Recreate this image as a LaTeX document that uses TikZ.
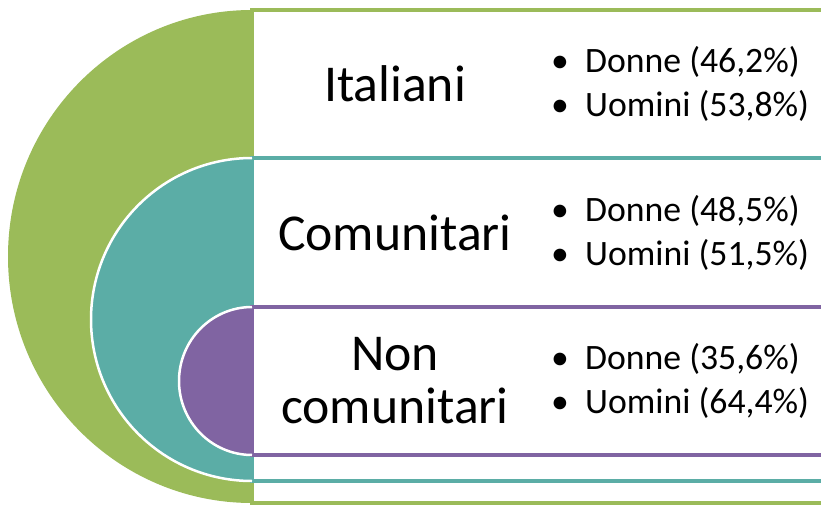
\documentclass[tikz,border=0pt]{standalone}
\usepackage{fontspec}
\setmainfont{Carlito}
\usepackage{tikz}
\usetikzlibrary{positioning,calc}
\definecolor{verde}{HTML}{9BBB59}
\definecolor{ottanio}{HTML}{5BADA6}
\definecolor{viola}{HTML}{8064A2}

\tikzset{
  fascia/.style={fill=white,draw=#1,line width=3.5pt},
  titolo/.style={align=center,font=\fontsize{51.7}{53}\selectfont,inner sep=0pt},
  elenco/.style={align=left,anchor=west,font=\fontsize{35.7}{44}\selectfont,inner sep=0pt}
}
\newcommand{\voce}[1]{\makebox[34pt][l]{\textbullet}#1}

\begin{document}
\begin{tikzpicture}[x=1pt,y=-1pt]
  \useasboundingbox (0,0) rectangle (821,505);
  \clip (0,0) rectangle (821,505);
  \fill[white] (0,0) rectangle (821,505);

  % Italiani: outer band
  \draw[fascia=verde] (252,10) rectangle (840,503);
  \fill[verde] (252,10) arc (270:90:244 and 246.5);

  % Comunitari: middle band
  \draw[fascia=ottanio] (252,158) rectangle (840,481);
  \path[fill=ottanio,draw=white,line width=2.5pt] (252,158) arc (270:90:161 and 161.5);

  % Non comunitari: inner band
  \draw[fascia=viola] (252,307) rectangle (840,455);
  \path[fill=viola,draw=white,line width=2.5pt] (252,307) arc (270:90:73 and 74);

  % Labels
  \node[titolo] (italiani) at (395,84) {Italiani};
  \node[titolo] (comunitari) at (395,233) {Comunitari};
  \node[titolo] (noncomunitari) at (395,381) {Non\\comunitari};

  % Percentages
  \node[elenco] (italiani-voci) at (551,84) {\voce{Donne (46,2\%)}\\\voce{Uomini (53,8\%)}};
  \node[elenco] (comunitari-voci) at (551,233) {\voce{Donne (48,5\%)}\\\voce{Uomini (51,5\%)}};
  \node[elenco] (noncomunitari-voci) at (551,381) {\voce{Donne (35,6\%)}\\\voce{Uomini (64,4\%)}};
\end{tikzpicture}
\end{document}
